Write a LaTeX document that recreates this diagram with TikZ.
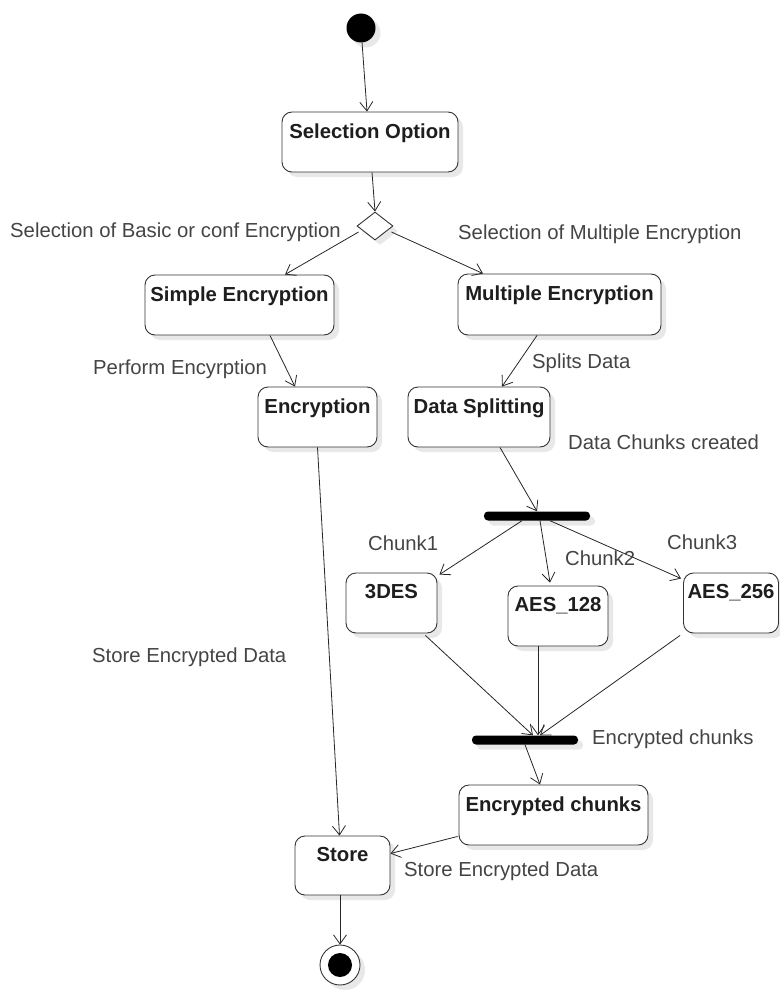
\documentclass[tikz,border=0pt]{standalone}
\usepackage{fontspec}
\setmainfont{Liberation Sans}
\usetikzlibrary{shapes.geometric,arrows.meta,shadows}
\definecolor{lbl}{HTML}{444444}
\definecolor{txt}{HTML}{1E1E1E}
\tikzset{
  shd/.style={drop shadow={shadow xshift=5pt,shadow yshift=-5pt,fill=black!9,opacity=1}},
  act/.style={draw=black!80,line width=0.9pt,rounded corners=10pt,fill=white,shd,inner sep=0pt},
  actlabel/.style={font=\fontsize{20.3}{22}\selectfont\bfseries,text=txt,inner sep=0pt},
  bar/.style={fill=black,rounded corners=4pt,minimum height=9pt,inner sep=0pt,shd},
  flow/.style={draw=black!85,line width=0.8pt,-{Straight Barb[length=9pt,width=13pt]}},
  note/.style={anchor=west,font=\fontsize{20.3}{22}\selectfont,text=lbl,inner sep=0pt}
}
\newcommand{\actnode}[6]{\node[act,minimum width=#4,minimum height=#5,
  label={[actlabel,anchor=north,yshift=-12pt]north:#6}] (#1) at (#2,#3) {};}
\begin{document}
\begin{tikzpicture}[x=1pt,y=-1pt]
\useasboundingbox (0,0) rectangle (779,990);
% initial
\node[circle,fill=black,minimum size=29pt,inner sep=0pt,shd] (init) at (361,28) {};
% activities
\actnode{selopt}{370}{142}{176pt}{60pt}{Selection Option}
\node[diamond,draw=black!80,line width=0.9pt,fill=white,minimum width=36pt,minimum height=28pt,inner sep=0pt,shd] (dec) at (375,226) {};
\actnode{simple}{239.5}{305}{189pt}{60pt}{Simple Encryption}
\actnode{multiple}{559.5}{304.5}{203pt}{61pt}{Multiple Encryption}
\actnode{encr}{317.5}{417}{119pt}{60pt}{Encryption}
\actnode{split}{479}{417}{142pt}{60pt}{Data Splitting}
\node[bar,minimum width=106pt] (fork1) at (537,516) {};
\actnode{des}{391.5}{603}{91pt}{60pt}{3DES}
\actnode{aesa}{558}{616}{100pt}{60pt}{AES\_128}
\actnode{aesb}{731}{603}{95pt}{60pt}{AES\_256}
\node[bar,minimum width=106pt] (fork2) at (525,740) {};
\actnode{encch}{553.5}{815}{189pt}{60pt}{Encrypted chunks}
\actnode{store}{342.5}{865.5}{95pt}{59pt}{Store}
% final
\node[circle,draw=black!80,line width=0.9pt,fill=white,minimum size=40pt,inner sep=0pt,shd] (final) at (340,965) {};
\node[circle,fill=black,minimum size=24pt,inner sep=0pt] (finalin) at (final.center) {};
% connectors
\draw[flow] (init) -- ([xshift=-3pt]selopt.north);
\draw[flow] ([xshift=2pt]selopt.south) -- (dec.north);
\draw[flow] ([xshift=2pt,yshift=-6pt]dec.west) -- ([xshift=45.5pt]simple.north);
\draw[flow] ([xshift=-2pt,yshift=-6pt]dec.east) -- ([xshift=-76.5pt]multiple.north);
\draw[flow] ([xshift=30.5pt]simple.south) -- ([xshift=-22.5pt]encr.north);
\draw[flow] ([xshift=-22.5pt]multiple.south) -- ([xshift=23pt]split.north);
\draw[flow] ([xshift=21pt]split.south) -- (fork1.north);
\draw[flow] ([xshift=-15pt]fork1.south) -- ([xshift=2pt,yshift=-2pt]des.north east);
\draw[flow] ([xshift=3pt]fork1.south) -- ([xshift=-8pt,yshift=3pt]aesa.north);
\draw[flow] ([xshift=13pt]fork1.south) -- ([xshift=-2pt,yshift=-6pt]aesb.north west);
\draw[flow] ([xshift=-12pt,yshift=-2pt]des.south east) -- ([xshift=8pt]fork2.north);
\draw[flow] ([xshift=-20pt]aesa.south) -- ([xshift=13pt]fork2.north);
\draw[flow] ([xshift=-3pt,yshift=-2pt]aesb.south west) -- ([xshift=15pt]fork2.north);
\draw[flow] (fork2.south) -- ([xshift=-13.5pt]encch.north);
\draw[flow] ([xshift=-1pt,yshift=9pt]encch.south west) -- ([yshift=12pt]store.east);
\draw[flow] (encr.south) -- ([xshift=-3pt]store.north);
\draw[flow] ([xshift=-2.5pt]store.south) -- (final.north);
% labels
\node[note] (l1) at (10,232) {Selection of Basic or conf Encryption};
\node[note] (l2) at (458,234) {Selection of Multiple Encryption};
\node[note] (l3) at (93,369) {Perform Encyrption};
\node[note] (l4) at (532,363) {Splits Data};
\node[note] (l5) at (568,442) {Data Chunks created};
\node[note] (l6) at (368,543) {Chunk1};
\node[note] (l7) at (565,558) {Chunk2};
\node[note] (l8) at (667,542) {Chunk3};
\node[note] (l9) at (92,657) {Store Encrypted Data};
\node[note] (l10) at (592,739) {Encrypted chunks};
\node[note] (l11) at (404,871) {Store Encrypted Data};
\end{tikzpicture}
\end{document}
